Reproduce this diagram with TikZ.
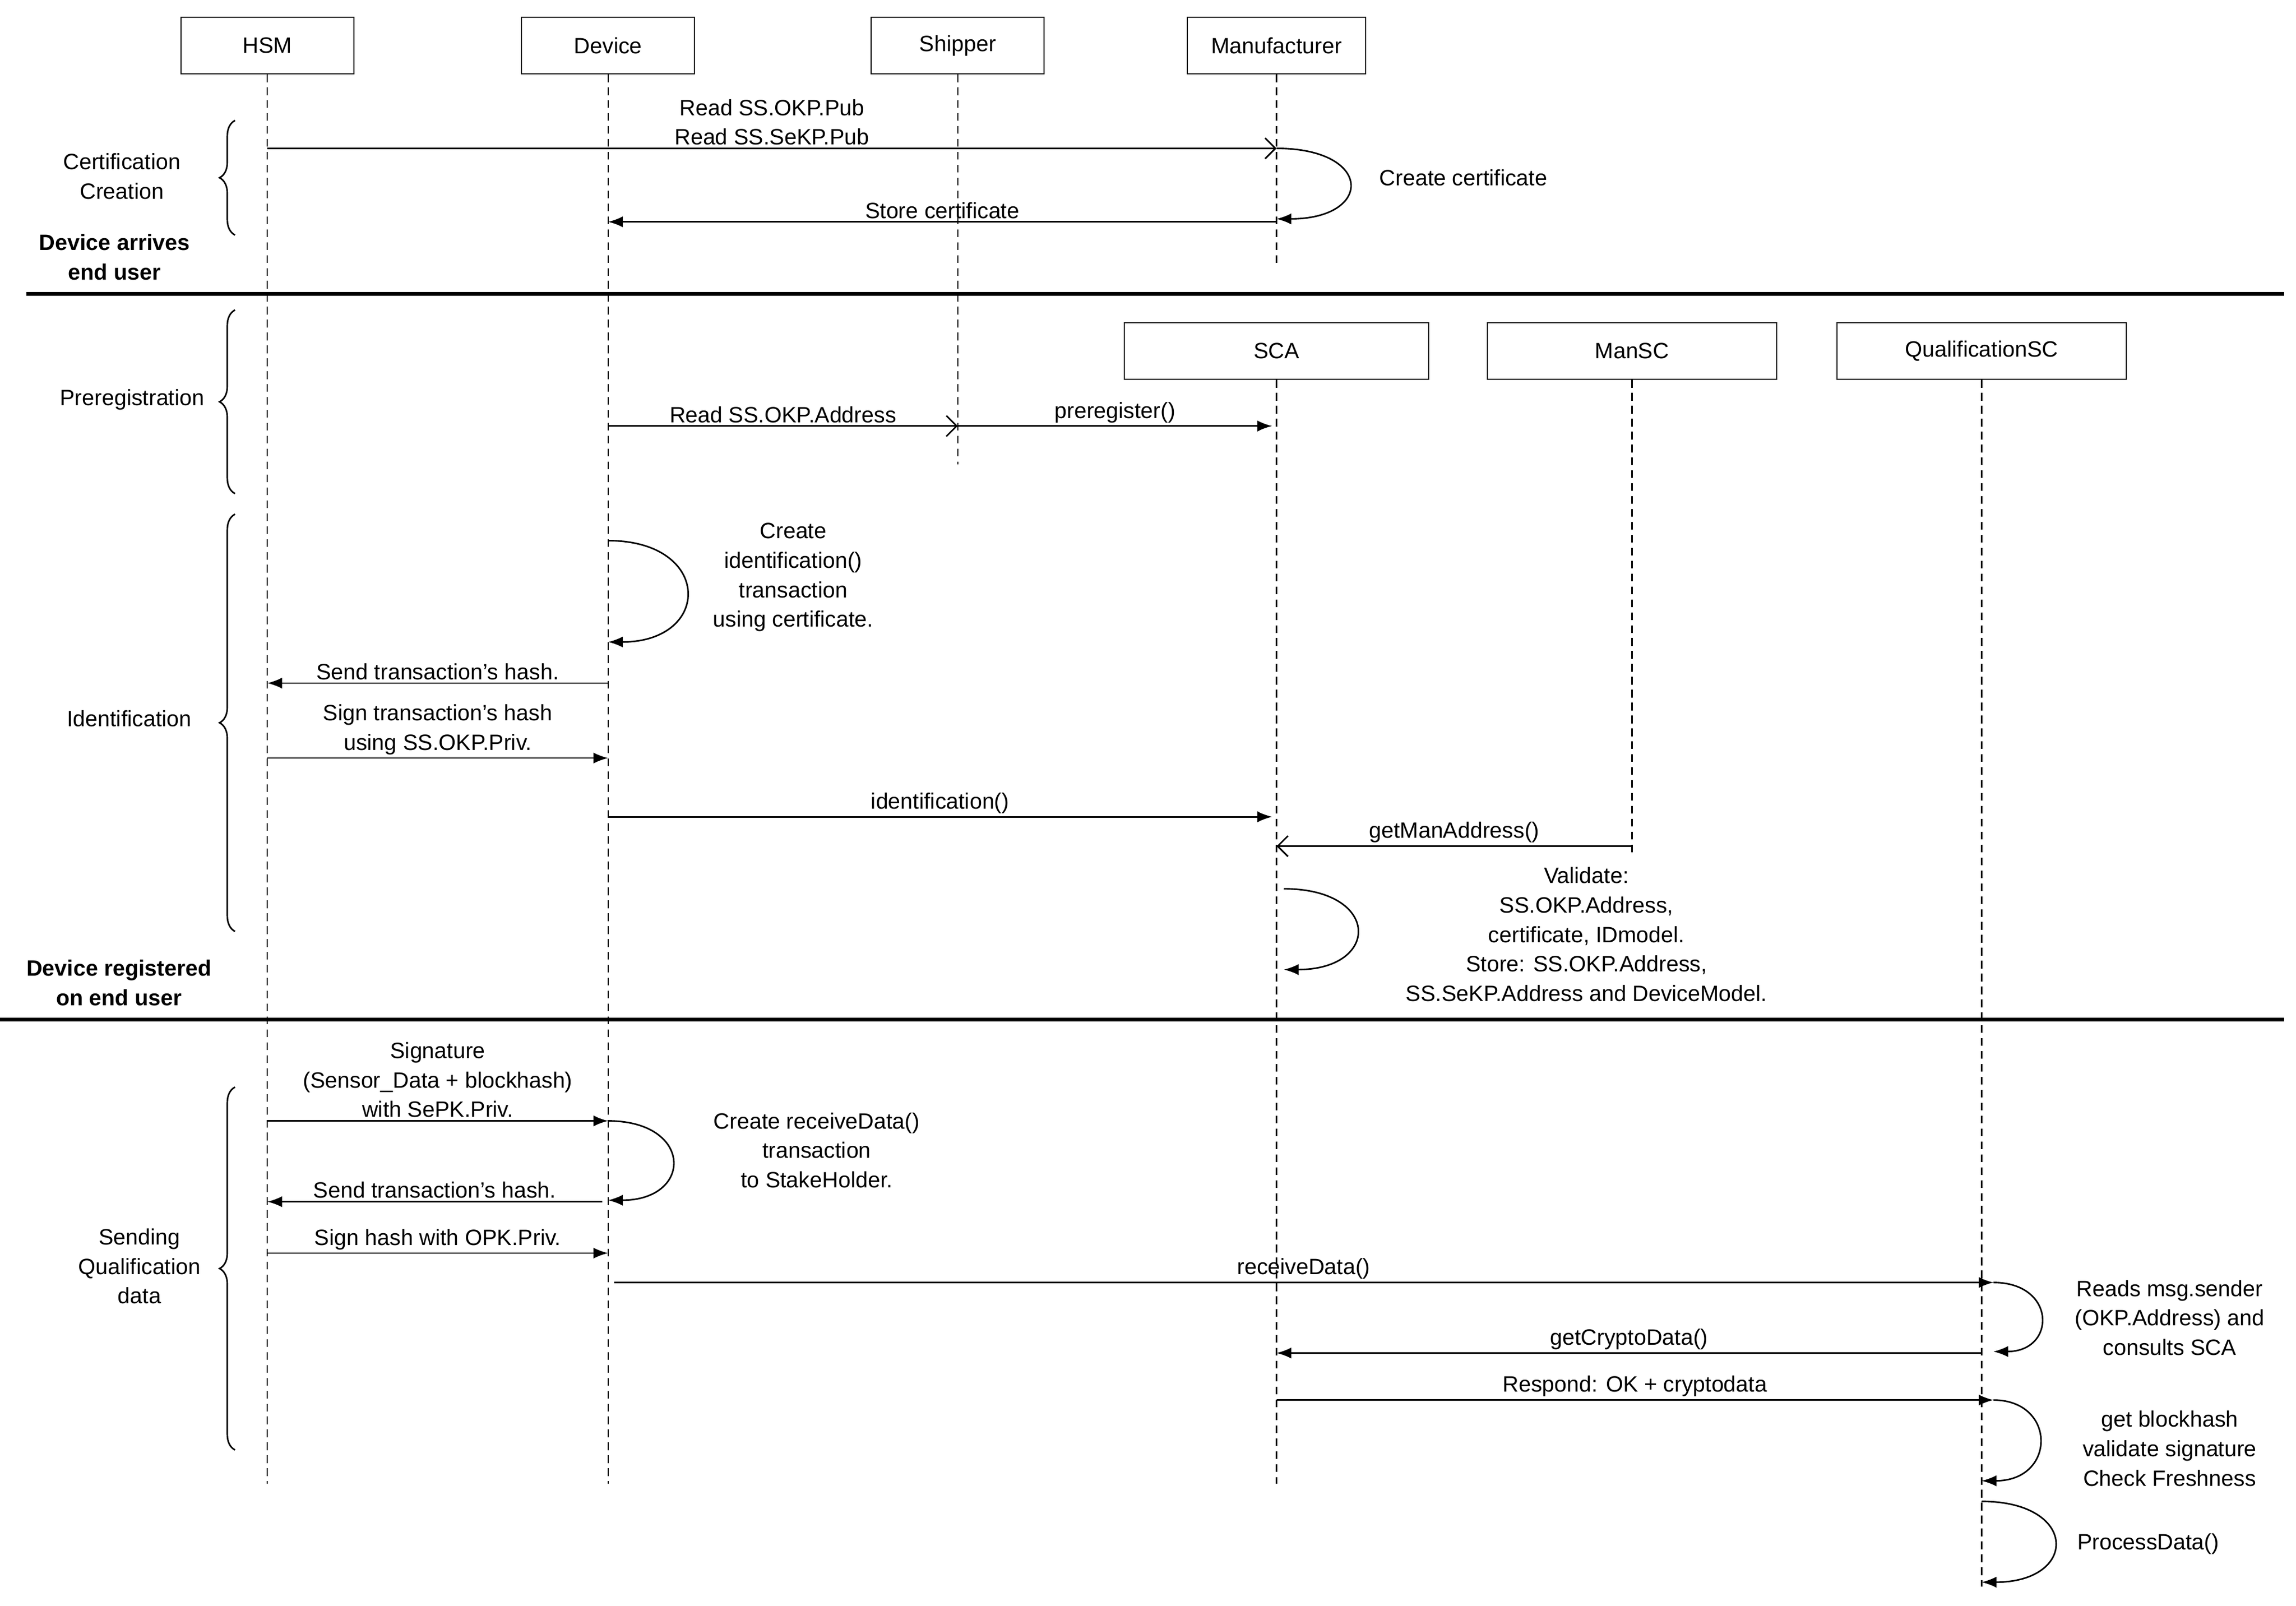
\documentclass[tikz,border=0pt]{standalone}
\usepackage{fontspec}
\setmainfont{Liberation Sans}
\usetikzlibrary{arrows.meta,positioning,calc,decorations.pathreplacing}
\begin{document}
\begin{tikzpicture}[x=0.02cm, y=-0.02cm, >=Latex,
  font=\fontsize{8.6}{11.4}\selectfont]
\tikzset{actor/.style={draw, minimum height=22pt, inner sep=0pt},
  life/.style={densely dashed, line width=0.5pt},
  msg/.style={->, line width=0.6pt},
  omsg/.style={-{Straight Barb[length=4pt]}, line width=0.6pt},
  lbl/.style={align=center, inner sep=1pt},
  brc/.style={decorate, decoration={brace, amplitude=6pt}, line width=0.6pt},
  sep/.style={line width=1.5pt}}
\useasboundingbox (0,0) rectangle (1563,1093);
% participants
\node[actor, minimum width=67pt] (hsm) at (182,31) {HSM};
\node[actor, minimum width=67pt] (dev) at (414,31) {Device};
\node[actor, minimum width=67pt] (ship) at (652,31) {Shipper};
\node[actor, minimum width=69pt] (man) at (869,31) {Manufacturer};
\node[actor, minimum width=118pt] (sca) at (869,239) {SCA};
\node[actor, minimum width=112pt] (mansc) at (1111,239) {ManSC};
\node[actor, minimum width=112pt] (qual) at (1349,239) {QualificationSC};
% lifelines
\draw[life] (hsm.south) -- (182,1010);
\draw[life] (dev.south) -- (414,1010);
\draw[life] (ship.south) -- (652,316);
\draw[life] (man.south) -- (869,180);
\draw[life] (sca.south) -- (869,1010);
\draw[life] (mansc.south) -- (1111,580);
\draw[life] (qual.south) -- (1349,1080);
% separators
\draw[sep] (18,200) -- (1555,200);
\draw[sep] (0,694) -- (1555,694);
% phases
\draw[brc] (160,160) -- (160,82);
\node[lbl] (cert) at (83,120) {Certification\\Creation};
\node[lbl, font=\fontsize{8.6}{11.4}\selectfont\bfseries] (arr) at (78,175) {Device arrives\\end user};
\draw[brc] (160,336) -- (160,211);
\node[lbl] (prereg) at (90,272) {Preregistration};
\draw[brc] (160,634) -- (160,350);
\node[lbl] (ident) at (88,489) {Identification};
\node[lbl, font=\fontsize{8.6}{11.4}\selectfont\bfseries] (reg) at (81,669) {Device registered\\on end user};
\draw[brc] (160,987) -- (160,740);
\node[lbl] (send) at (95,862) {Sending\\Qualification\\data};
% certification
\draw[omsg] (182,101) -- node[lbl, above] {Read SS.OKP.Pub\\Read SS.SeKP.Pub} (869,101);
\draw[msg] (869,101) .. controls (935,101) and (935,149) .. (869,149);
\node[lbl, anchor=west] (cc) at (937,121) {Create certificate};
\draw[msg] (869,151) -- node[lbl, above] {Store certificate} (414,151);
% preregistration
\draw[omsg] (414,290) -- node[lbl, above] {Read SS.OKP.Address} (652,290);
\draw[msg] (652,290) -- node[lbl, above] {preregister()} (866,290);
% identification
\draw[msg] (414,368) .. controls (485,368) and (485,437) .. (414,437);
\node[lbl] (cid) at (540,393) {Create\\identification()\\transaction\\using certificate.};
\draw[msg] (414,465) -- node[lbl, above] {Send transaction's hash.} (182,465);
\draw[msg] (182,516) -- node[lbl, above] {Sign transaction's hash\\using SS.OKP.Priv.} (414,516);
\draw[msg] (414,556) -- node[lbl, above] {identification()} (866,556);
\draw[omsg] (1111,576) -- node[lbl, above] {getManAddress()} (869,576);
\draw[msg] (874,605) .. controls (940,605) and (940,660) .. (874,660);
\node[lbl] (val) at (1080,636) {Validate:\\SS.OKP.Address,\\certificate, IDmodel.\\Store: SS.OKP.Address,\\SS.SeKP.Address and DeviceModel.};
% sending data
\draw[msg] (182,763) -- node[lbl, above] {Signature\\(Sensor\_Data + blockhash)\\with SePK.Priv.} (414,763);
\draw[msg] (414,763) .. controls (472,763) and (472,817) .. (414,817);
\node[lbl] (crd) at (556,783) {Create receiveData()\\transaction\\to StakeHolder.};
\draw[msg] (410,818) -- node[lbl, above] {Send transaction's hash.} (182,818);
\draw[msg] (182,853) -- node[lbl, above] {Sign hash with OPK.Priv.} (414,853);
\draw[msg] (418,873) -- node[lbl, above] {receiveData()} (1357,873);
\draw[msg] (1357,873) .. controls (1400,873) and (1400,920) .. (1357,920);
\node[lbl] (rms) at (1477,897) {Reads msg.sender\\(OKP.Address) and\\consults SCA};
\draw[msg] (1349,921) -- node[lbl, above] {getCryptoData()} (869,921);
\draw[msg] (869,953) -- node[lbl, above] {Respond: OK + cryptodata} (1357,953);
\draw[msg] (1357,953) .. controls (1400,953) and (1400,1008) .. (1349,1008);
\node[lbl] (gbh) at (1477,986) {get blockhash\\validate signature\\Check Freshness};
\draw[msg] (1349,1022) .. controls (1415,1022) and (1415,1077) .. (1349,1077);
\node[lbl, anchor=west] (pd) at (1412,1051) {ProcessData()};
\end{tikzpicture}
\end{document}
